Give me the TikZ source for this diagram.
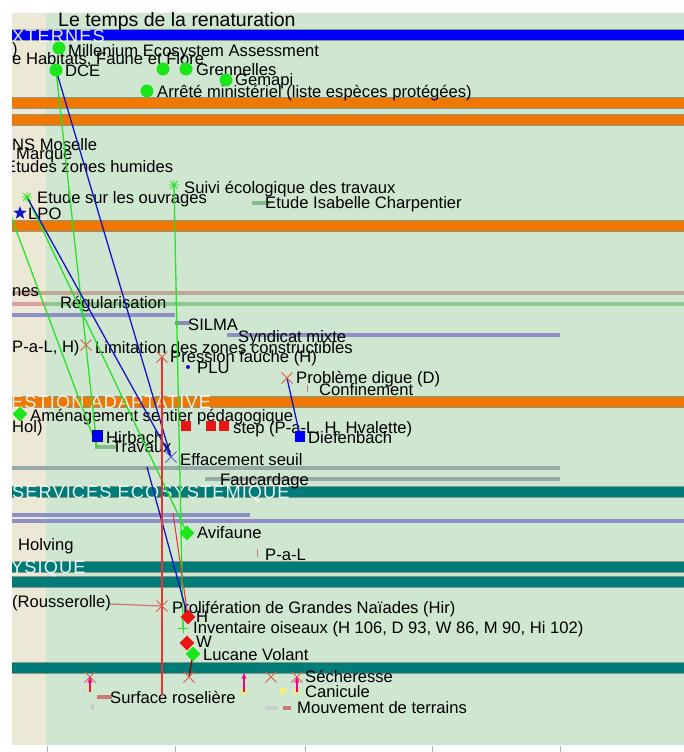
\documentclass[tikz,border=0pt]{standalone}
\usepackage{fontspec}
\setmainfont{Liberation Sans}
\usetikzlibrary{shapes.geometric,shapes.misc,arrows.meta}
\pgfdeclarelayer{fg}
\pgfsetlayers{main,fg}

\definecolor{fond}{RGB}{207,231,208}
\definecolor{beige}{RGB}{236,232,214}
\definecolor{bleuband}{RGB}{0,0,250}
\definecolor{orangeband}{RGB}{238,120,0}
\definecolor{tealband}{RGB}{0,124,120}
\definecolor{lavande}{RGB}{143,143,200}
\definecolor{grisvert}{RGB}{150,170,168}
\definecolor{brun}{RGB}{192,168,150}
\definecolor{vertbarre}{RGB}{140,200,140}
\definecolor{vertpt}{RGB}{26,230,26}
\definecolor{vertligne}{RGB}{40,225,40}
\definecolor{bleuligne}{RGB}{20,20,200}
\definecolor{rougept}{RGB}{235,20,20}
\definecolor{rougeligne}{RGB}{230,50,50}
\definecolor{croix}{RGB}{225,90,70}
\definecolor{rose}{RGB}{205,120,120}
\definecolor{jaune}{RGB}{240,240,120}

\tikzset{
  bande/.style={line width=10pt, preaction={draw, line width=12pt, opacity=.35}},
  barre/.style={line width=4pt},
  lbl/.style={anchor=base west, inner sep=0pt, font=\fontsize{16.6}{18}\selectfont},
  titre/.style={lbl, font=\fontsize{19.5}{21}\selectfont},
  nomband/.style={lbl, text=white, text opacity=.9,
    font=\fontsize{18.2}{20}\selectfont\addfontfeature{LetterSpace=6}},
  pt/.style={circle, fill=vertpt, inner sep=0pt, minimum size=13pt},
  pointb/.style={circle, fill=bleuligne, inner sep=0pt, minimum size=4pt},
  croixr/.style={cross out, draw=croix, line width=1pt, inner sep=0pt, minimum size=10pt},
  croixb/.style={croixr, draw=bleuligne!70},
  losv/.style={diamond, fill=vertpt, inner sep=0pt, minimum size=15pt},
  losr/.style={diamond, fill=rougept, inner sep=0pt, minimum size=15pt},
  carrer/.style={rectangle, fill=rougept, inner sep=0pt, minimum size=10pt},
  carreb/.style={rectangle, fill=bleuband, inner sep=0pt, minimum width=10pt, minimum height=11pt},
  etoile/.style={star, star points=5, star point ratio=2.4, fill=bleuligne, inner sep=0pt, minimum size=14pt},
  aster/.style={circle, inner sep=0pt, minimum size=11pt, path picture={
      \draw[vertligne, line width=.8pt]
        (path picture bounding box.north) -- (path picture bounding box.south)
        (path picture bounding box.west) -- (path picture bounding box.east)
        (path picture bounding box.north west) -- (path picture bounding box.south east)
        (path picture bounding box.north east) -- (path picture bounding box.south west);}},
  plusv/.style={circle, inner sep=0pt, minimum size=11pt, path picture={
      \draw[vertligne, line width=.8pt]
        (path picture bounding box.north) -- (path picture bounding box.south)
        (path picture bounding box.west) -- (path picture bounding box.east);}},
  fleche/.style={-{Stealth[length=6pt, width=5pt]}, draw=magenta, line width=1.2pt}
}

\begin{document}
\begin{tikzpicture}[x=1pt, y=-1pt]
  \useasboundingbox (0,0) rectangle (684,752);

  % fond et bandes
  \begin{scope}
    \clip (12,13) rectangle (684,745);
    \fill[fond] (12,13) rectangle (684,745);
    \fill[beige] (12,13) rectangle (46,745);

    \draw[bande, bleuband] (12,35) -- (684,35);
    \draw[bande, orangeband] (12,103) -- (684,103);
    \draw[bande, orangeband] (12,120) -- (684,120);
    \draw[bande, orangeband] (12,226) -- (684,226);
    \draw[barre, brun] (12,293) -- (684,293);
    \draw[barre, rose!70] (12,304) -- (46,304);
    \draw[barre, vertbarre] (46,304) -- (684,304);
    \draw[barre, lavande] (12,315) -- (175,315);
    \draw[barre, lavande!80!gray] (175,323) -- (190,323);
    \draw[barre, lavande] (227,335) -- (560,335);
    \draw[bande, orangeband] (12,402) -- (684,402);
    \draw[barre, grisvert] (12,468) -- (560,468);
    \draw[barre, grisvert] (205,479) -- (560,479);
    \draw[bande, tealband] (12,492) -- (684,492);
    \draw[barre, lavande] (12,515) -- (250,515);
    \draw[barre, lavande] (12,521) -- (684,521);
    \draw[bande, tealband] (12,567) -- (684,567);
    \draw[bande, tealband] (12,582) -- (684,582);
    \draw[bande, tealband] (12,668) -- (684,668);
    \draw[barre, vertbarre!80!gray] (95,447) -- (118,447);
    \draw[barre, vertbarre!80!gray] (252,203) -- (270,203);
    \draw[barre, rose] (97,697) -- (112,697);
    \draw[barre, gray!40] (265,708) -- (278,708);
    \draw[barre, rose] (283,708) -- (291,708);
    \draw[line width=3pt, gray!40] (92,704) -- (92,710);
    \draw[line width=1pt, rose] (257,549) -- (257,557);
    \draw[line width=1pt, rose] (307,385) -- (307,392);
    \fill[jaune] (87,685) rectangle (93,691);
    \fill[jaune] (280,688) rectangle (286,694);
    \fill[jaune] (294,688) rectangle (300,694);
    \fill[jaune] (241,688) rectangle (247,694);

    % textes
    \node[titre] (t0) at (58,27) {Le temps de la renaturation};
    \node[nomband] (ext) at (12,43) {XTERNES};
    \node[nomband] (ges) at (11,408) {ESTION ADAPTATIVE};
    \node[nomband] (ser) at (12,498) {SERVICES ECOSYSTEMIQUE};
    \node[nomband] (phy) at (11,573) {YSIQUE};

    \node[lbl] (tpar) at (12,55) {)};
    \node[lbl] (tmil) at (68,57) {Millenium Ecosystem Assessment};
    \node[lbl] (thab) at (12,65) {e Habitats, Faune et Flore};
    \node[lbl] (tdce) at (65,77) {DCE};
    \node[lbl] (tgre) at (196,76) {Grennelles};
    \node[lbl] (tgem) at (235,85) {Gemapi};
    \node[lbl] (tarr) at (157,97) {Arrêté ministériel (liste espèces protégées)};
    \node[lbl] (tmos) at (12,150) {NS Moselle};
    \node[lbl] (tmar) at (16,159) {Marque};
    \node[lbl] (tetu) at (5,172) {Etudes zones humides};
    \node[lbl] (tsui) at (184,193) {Suivi écologique des travaux};
    \node[lbl] (touv) at (37,203) {Etude sur les ouvrages};
    \node[lbl] (tisa) at (265,208) {Etude Isabelle Charpentier};
    \node[lbl] (tlpo) at (28,219) {LPO};
    \node[lbl] (tnes) at (12,296) {nes};
    \node[lbl] (treg) at (60,308) {Régularisation};
    \node[lbl] (tsil) at (188,330) {SILMA};
    \node[lbl] (tsyn) at (238,342) {Syndicat mixte};
    \node[lbl] (tpal) at (12,352) {P-a-L, H)};
    \node[lbl] (tlim) at (95,353) {Limitation des zones constructibles};
    \node[lbl] (tfau) at (170,362) {Pression fauche (H)};
    \node[lbl] (tplu) at (197,373) {PLU};
    \node[lbl] (tdig) at (296,383) {Problème digue (D)};
    \node[lbl] (tcon) at (319,395) {Confinement};
    \node[lbl] (tame) at (30,421) {Aménagement sentier pédagogique};
    \node[lbl] (thol) at (12,432) {Hol)};
    \node[lbl] (tste) at (233,433) {step (P-a-L, H, Hvalette)};
    \node[lbl] (thir) at (106,443) {Hirbach};
    \node[lbl] (tdie) at (308,443) {Diefenbach};
    \node[lbl] (ttra) at (112,452) {Travaux};
    \node[lbl] (teff) at (180,465) {Effacement seuil};
    \node[lbl] (tfac) at (220,485) {Faucardage};
    \node[lbl] (tavi) at (197,538) {Avifaune};
    \node[lbl] (tholv) at (18,550) {Holving};
    \node[lbl] (tpl2) at (265,560) {P-a-L};
    \node[lbl] (trou) at (12,607) {(Rousserolle)};
    \node[lbl] (tpro) at (172,613) {Prolifération de Grandes Naïades (Hir)};
    \node[lbl] (th) at (196,622) {H};
    \node[lbl] (tinv) at (193,633) {Inventaire oiseaux (H 106, D 93, W 86, M 90, Hi 102)};
    \node[lbl] (tw) at (196,647) {W};
    \node[lbl] (tluc) at (203,660) {Lucane Volant};
    \node[lbl] (tsec) at (305,682) {Sécheresse};
    \node[lbl] (tcan) at (305,697) {Canicule};
    \node[lbl] (tsur) at (110,703) {Surface roselière};
    \node[lbl] (tmou) at (297,713) {Mouvement de terrains};
  \end{scope}

  % marqueurs
  \begin{pgfonlayer}{fg}
    \node[pt] (mil) at (59,48) {};
    \node[pt] (dce) at (56,70) {};
    \node[pt] (hab) at (163,69) {};
    \node[pt] (gre) at (186,69) {};
    \node[pt] (gem) at (226,80) {};
    \node[pt] (arr) at (147,91) {};
    \node[aster] (ouv) at (27,197) {};
    \node[aster] (sui) at (174,185) {};
    \node[etoile] (lpo) at (20,213) {};
    \node[croixr] (lim) at (86,345) {};
    \node[croixr] (fau) at (162,357) {};
    \node[pointb] (plu) at (188,367) {};
    \node[croixr] (dig) at (287,378) {};
    \node[losv] (ame) at (20,414) {};
    \node[carreb, draw=bleuligne!60!black] (hir) at (97,436) {};
    \node[carrer] (st1) at (186,426) {};
    \node[carrer] (st2) at (211,426) {};
    \node[carrer] (st3) at (224,426) {};
    \node[carreb] (die) at (300,436) {};
    \node[croixb] (eff) at (171,457) {};
    \node[losv] (avi) at (187,533) {};
    \node[croixr] (pro) at (162,606) {};
    \node[losr] (h) at (188,617) {};
    \node[plusv] (inv) at (183,628) {};
    \node[losr] (w) at (187,643) {};
    \node[losv] (luc) at (193,654) {};
    \node[croixr] (x1) at (90,677) {};
    \node[croixr] (x2) at (189,677) {};
    \node[croixr] (x3) at (271,677) {};
    \node[croixr] (x4) at (297,677) {};
    \coordinate (j1) at (90,692);
    \coordinate (j2) at (244,692);
    \coordinate (j3) at (297,692);
    \coordinate (a2) at (244,673);
    \path (j1) edge[fleche] (x1.center);
    \path (j2) edge[fleche] (a2);
    \path (j3) edge[fleche] (x4.center);
  \end{pgfonlayer}

  % liens
  \coordinate (gau) at (-10,160);
  \coordinate (tra) at (97,447);
  \coordinate (bl0) at (147,467);
  \coordinate (ro0) at (173,513);
  \coordinate (ros) at (162,695);
  \coordinate (rou) at (110,604);
  \begin{scope}
    \clip (12,13) rectangle (684,745);
    \begin{scope}[every edge/.style={draw, line width=1.3pt}]
      \path (dce.center) edge[vertligne] (tra);
      \path (gau) edge[vertligne] (tra);
      \path (ouv.center) edge[vertligne] (avi.center);
      \path (sui.center) edge[vertligne] (inv.center);
      \path (dce.center) edge[bleuligne] (eff.center);
      \path (ouv.center) edge[bleuligne] (eff.center);
      \path (bl0) edge[bleuligne] (h.center);
      \path (dig.center) edge[bleuligne] (die.center);
      \path (fau.center) edge[rougeligne] (ros);
      \path (rou) edge[rose] (pro.center);
      \path (ro0) edge[rougeligne, line width=1pt] (h.center);
      \path (luc.center) edge[red!60!black, line width=1.5pt] (x2.center);
    \end{scope}
  \end{scope}

  % graduations
  \foreach \gx in {47,175,305,432,560}
    \draw[gray!60, line width=.6pt] (\gx,746) -- (\gx,752);
\end{tikzpicture}
\end{document}
